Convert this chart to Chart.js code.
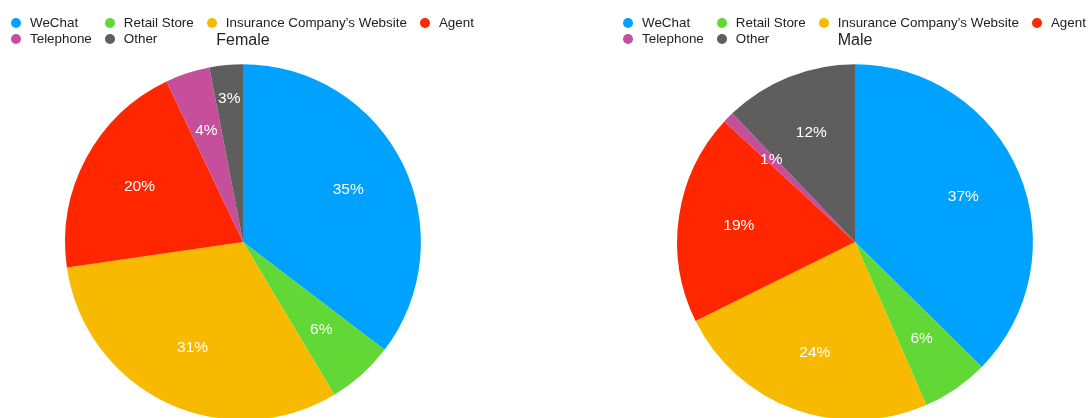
<!DOCTYPE html>
<html>
<head>
<meta charset="utf-8">
<script src="https://cdn.jsdelivr.net/npm/chart.js@4/dist/chart.umd.min.js"></script>
<style>
    html, body {
        margin: 0;
        padding: 0;
        background: #fff;
        width: 1091px;
        height: 418px;
        overflow: hidden;
        font-family: "Liberation Sans", Arial, Helvetica, sans-serif;
    }
    .panel {
        position: absolute;
        top: 0;
        width: 486px;
        height: 420px;
    }
    .legend {
        position: absolute;
        top: 15px;
        left: 11px;
        display: grid;
        grid-template-columns: repeat(4, auto);
        column-gap: 13px;
        font-size: 13.4px;
        line-height: 15.5px;
        color: #222;
        white-space: nowrap;
    }
    .legend span.dot {
        display: inline-block;
        width: 10px;
        height: 10px;
        border-radius: 50%;
        margin-right: 9px;
        vertical-align: -1px;
    }
</style>
</head>
<body>
<div class="panel" style="left:0">
    <canvas id="female"></canvas>
    <div class="legend" id="femaleLegend"></div>
</div>
<div class="panel" style="left:612px">
    <canvas id="male"></canvas>
    <div class="legend" id="maleLegend"></div>
</div>
<script>
const labels = ["WeChat", "Retail Store", "Insurance Company\u2019s Website", "Agent", "Telephone", "Other"];
const colors = ["#00a2ff", "#61d836", "#f8ba00", "#ff2600", "#c64f9c", "#5e5e5e"];

const femaleValues = [35, 6, 31, 20, 4, 3];
const maleValues = [37, 6, 24, 19, 1, 12];

// percent labels inside the slices, pushed outwards if they bump into the previous one
const pctLabels = {
    id: "pctLabels",
    afterDatasetsDraw(chart) {
        const ctx = chart.ctx;
        const values = chart.data.datasets[0].data;
        ctx.save();
        ctx.fillStyle = "#fff";
        ctx.font = '15.5px "Liberation Sans", Arial, sans-serif';
        ctx.textAlign = "center";
        ctx.textBaseline = "middle";
        let prev = null;
        chart.getDatasetMeta(0).data.forEach((arc, i) => {
            const p = arc.getProps(["x", "y", "startAngle", "endAngle", "outerRadius"]);
            const mid = (p.startAngle + p.endAngle) / 2;
            let r = p.outerRadius * 0.66;
            let lx = p.x + Math.cos(mid) * r;
            let ly = p.y + Math.sin(mid) * r;
            if (prev && Math.hypot(lx - prev[0], ly - prev[1]) < 30) {
                r = p.outerRadius * 0.81;
                lx = p.x + Math.cos(mid) * r;
                ly = p.y + Math.sin(mid) * r;
            }
            ctx.fillText(values[i] + "%", lx, ly);
            prev = [lx, ly];
        });
        ctx.restore();
    },
};

function buildLegend(el) {
    labels.forEach((l, i) => {
        const item = document.createElement("div");
        item.innerHTML = '<span class="dot" style="background:' + colors[i] + '"></span>' + l;
        el.appendChild(item);
    });
}

function makePie(id, title, values) {
    return new Chart(document.getElementById(id), {
        type: "pie",
        data: {
            labels: labels,
            datasets: [{
                data: values,
                backgroundColor: colors,
                borderWidth: 0,
            }],
        },
        options: {
            responsive: true,
            maintainAspectRatio: false,
            animation: false,
            layout: { padding: 0 },
            plugins: {
                legend: { display: false },
                tooltip: { enabled: false },
                title: {
                    display: true,
                    text: title,
                    color: "#222",
                    font: { size: 16, weight: "normal", family: '"Liberation Sans", Arial, sans-serif' },
                    padding: { top: 31, bottom: 14 },
                },
            },
        },
        plugins: [pctLabels],
    });
}

buildLegend(document.getElementById("femaleLegend"));
buildLegend(document.getElementById("maleLegend"));
makePie("female", "Female", femaleValues);
makePie("male", "Male", maleValues);
</script>
</body>
</html>
